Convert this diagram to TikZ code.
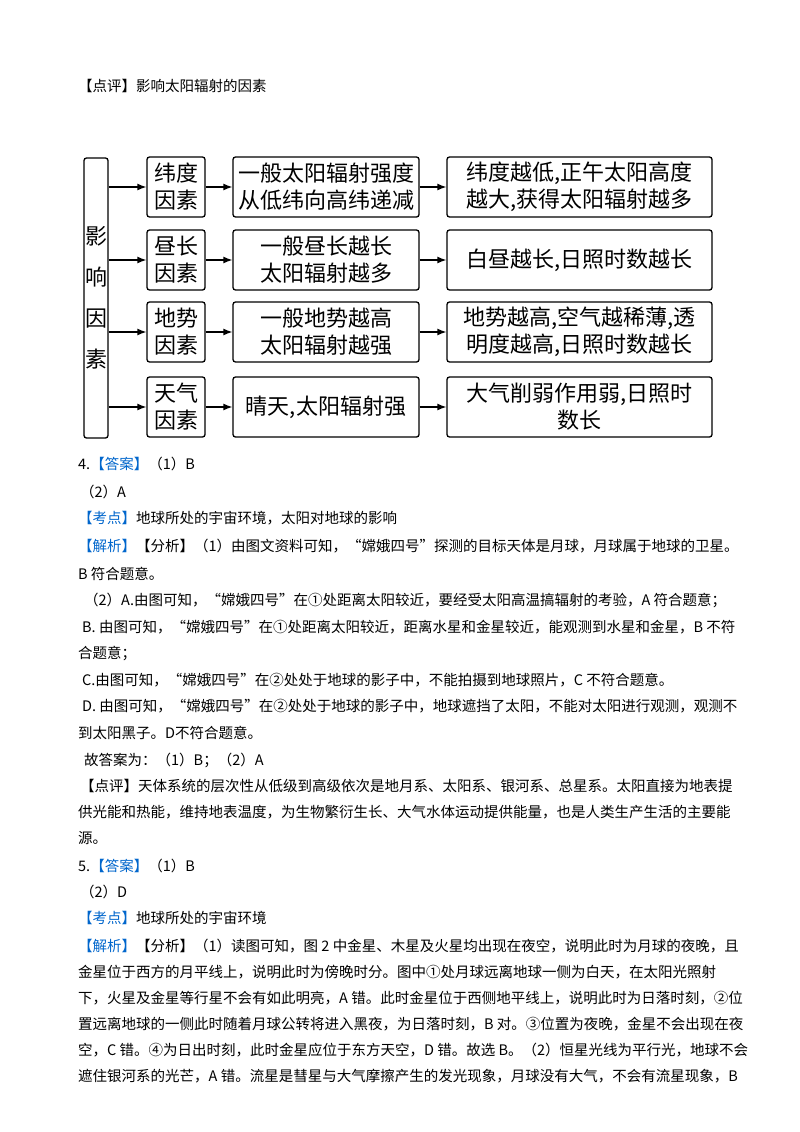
\documentclass[tikz,border=0pt]{standalone}
\usepackage{fontspec}
\setmainfont{Noto Sans CJK SC}
\usetikzlibrary{arrows.meta}
\definecolor{kblue}{RGB}{0,102,204}
\begin{document}
\begin{tikzpicture}[x=1pt,y=-1pt,
  bx/.style={draw,line width=1.3pt,rounded corners=2.5pt,inner sep=0pt,align=center,font=\fontsize{22}{27}\selectfont},
  ar/.style={-{Latex[length=9pt,width=7pt]},line width=1.3pt},
  tl/.style={anchor=west,inner sep=0pt,font=\fontsize{14.5}{16}\selectfont}]
\useasboundingbox[fill=white] (0,0) rectangle (800,1132);
\node[bx,minimum width=24pt,minimum height=280pt] (L) at (96,298) {影\\[14pt]响\\[14pt]因\\[14pt]素};
\foreach \i/\y/\a/\b/\c in {1/187/{纬度\\因素}/{一般太阳辐射强度\\从低纬向高纬递减}/{纬度越低,正午太阳高度\\越大,获得太阳辐射越多},
  2/260/{昼长\\因素}/{一般昼长越长\\太阳辐射越多}/{白昼越长,日照时数越长},
  3/332/{地势\\因素}/{一般地势越高\\太阳辐射越强}/{地势越高,空气越稀薄,透\\明度越高,日照时数越长},
  4/407/{天气\\因素}/{晴天,太阳辐射强}/{大气削弱作用弱,日照时\\数长}}{
  \node[bx,minimum width=58pt,minimum height=60pt] (a\i) at (176,\y) {\a};
  \node[bx,minimum width=186pt,minimum height=60pt] (b\i) at (326,\y) {\b};
  \node[bx,minimum width=265pt,minimum height=60pt] (c\i) at (579.5,\y) {\c};
  \coordinate (s\i) at (L.east |- a\i.west);
  \draw[ar] (s\i) -- (a\i.west);
  \draw[ar] (a\i) -- (b\i);
  \draw[ar] (b\i) -- (c\i);
}
\node[tl] (t0) at (78,86) {【点评】影响太阳辐射的因素};
\node[tl] (t1) at (78,464) {4.\textcolor{kblue}{【答案】}（1）B};
\node[tl] (t2) at (80,492) {（2）A};
\node[tl] (t3) at (78,518) {\textcolor{kblue}{【考点】}地球所处的宇宙环境，太阳对地球的影响};
\node[tl] (t4) at (78,546) {\textcolor{kblue}{【解析】}【分析】（1）由图文资料可知，“嫦娥四号”探测的目标天体是月球，月球属于地球的卫星。};
\node[tl] (t5) at (78,574) {B 符合题意。};
\node[tl] (t6) at (84,600) {（2）A.由图可知，“嫦娥四号”在①处距离太阳较近，要经受太阳高温搞辐射的考验，A 符合题意；};
\node[tl] (t7) at (82,627) {B. 由图可知，“嫦娥四号”在①处距离太阳较近，距离水星和金星较近，能观测到水星和金星，B 不符};
\node[tl] (t8) at (78,654) {合题意；};
\node[tl] (t9) at (82,680) {C.由图可知，“嫦娥四号”在②处处于地球的影子中，不能拍摄到地球照片，C 不符合题意。};
\node[tl] (t10) at (82,706) {D. 由图可知，“嫦娥四号”在②处处于地球的影子中，地球遮挡了太阳，不能对太阳进行观测，观测不};
\node[tl] (t11) at (78,733) {到太阳黑子。D不符合题意。};
\node[tl] (t12) at (84,760) {故答案为：（1）B；（2）A};
\node[tl] (t13) at (80,786) {【点评】天体系统的层次性从低级到高级依次是地月系、太阳系、银河系、总星系。太阳直接为地表提};
\node[tl] (t14) at (78,812) {供光能和热能，维持地表温度，为生物繁衍生长、大气水体运动提供能量，也是人类生产生活的主要能};
\node[tl] (t15) at (78,838) {源。};
\node[tl] (t16) at (78,866) {5.\textcolor{kblue}{【答案】}（1）B};
\node[tl] (t17) at (80,892) {（2）D};
\node[tl] (t18) at (78,918) {\textcolor{kblue}{【考点】}地球所处的宇宙环境};
\node[tl] (t19) at (78,946) {\textcolor{kblue}{【解析】}【分析】（1）读图可知，图 2 中金星、木星及火星均出现在夜空，说明此时为月球的夜晚，且};
\node[tl] (t20) at (78,972) {金星位于西方的月平线上，说明此时为傍晚时分。图中①处月球远离地球一侧为白天，在太阳光照射};
\node[tl] (t21) at (78,998) {下，火星及金星等行星不会有如此明亮，A 错。此时金星位于西侧地平线上，说明此时为日落时刻，②位};
\node[tl] (t22) at (78,1024) {置远离地球的一侧此时随着月球公转将进入黑夜，为日落时刻，B 对。③位置为夜晚，金星不会出现在夜};
\node[tl] (t23) at (78,1050) {空，C 错。④为日出时刻，此时金星应位于东方天空，D 错。故选 B。（2）恒星光线为平行光，地球不会};
\node[tl] (t24) at (78,1076) {遮住银河系的光芒，A 错。流星是彗星与大气摩擦产生的发光现象，月球没有大气，不会有流星现象，B};
\end{tikzpicture}
\end{document}
